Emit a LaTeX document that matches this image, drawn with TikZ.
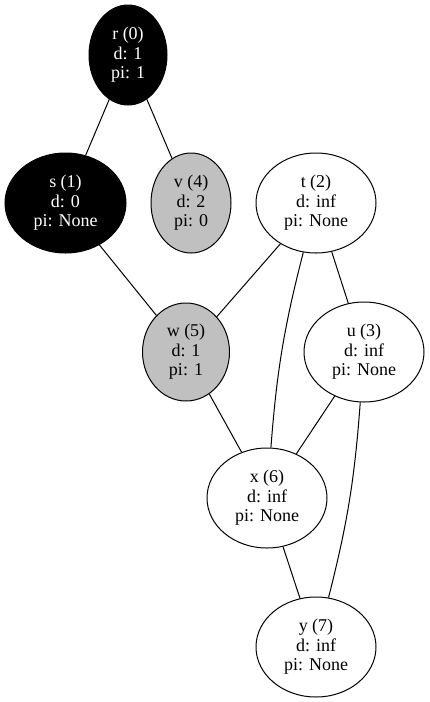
\documentclass[tikz,border=0pt]{standalone}
\definecolor{graphgray}{RGB}{192,192,192}
\usepackage{fontspec}
\setmainfont{Liberation Serif}
\usepackage{tikz}
\usetikzlibrary{shapes,positioning}

\begin{document}
\begin{tikzpicture} [
			x=1pt,y=-1pt,
			every node/.style={ellipse,draw,line width=1pt,inner sep=0pt,minimum width=120pt,minimum height=100pt,align=center,font=\fontsize{18}{19.5}\selectfont},
			blacknode/.style={fill=black,text=white},
			graynode/.style={fill=graphgray},
			every path/.style={line width=1pt},
		]

		\useasboundingbox (0,0) rectangle (430,702);

		\node[blacknode,minimum width=78pt] (r) at (128,55) {r (0)\\d: 1\\pi: 1};
		\node[blacknode,minimum width=121pt] (s) at (65.5,203) {s (1)\\d: 0\\pi: None};
		\node[graynode,minimum width=80pt] (v) at (191,203) {v (4)\\d: 2\\pi: 0};
		\node (t) at (316,203) {t (2)\\d: inf\\pi: None};
		\node[graynode,minimum width=87pt,minimum height=98pt] (w) at (186,352) {w (5)\\d: 1\\pi: 1};
		\node (u) at (364,352) {u (3)\\d: inf\\pi: None};
		\node (x) at (267,498) {x (6)\\d: inf\\pi: None};
		\node (y) at (316,647) {y (7)\\d: inf\\pi: None};

%		\fill [red] (t) circle (2pt);

		\draw (r) -- (s);
		\draw (r) -- (v);
		\draw (s) -- (w);
		\draw (t) -- (w);
		\draw (t) to[bend right=5] (x);
		\draw (t) -- (u);
		\draw (w) -- (x);
		\draw (u) -- (x);
		\draw (u) to[bend left=5] (y);
		\draw (x) -- (y);

	\end{tikzpicture}
\end{document}
